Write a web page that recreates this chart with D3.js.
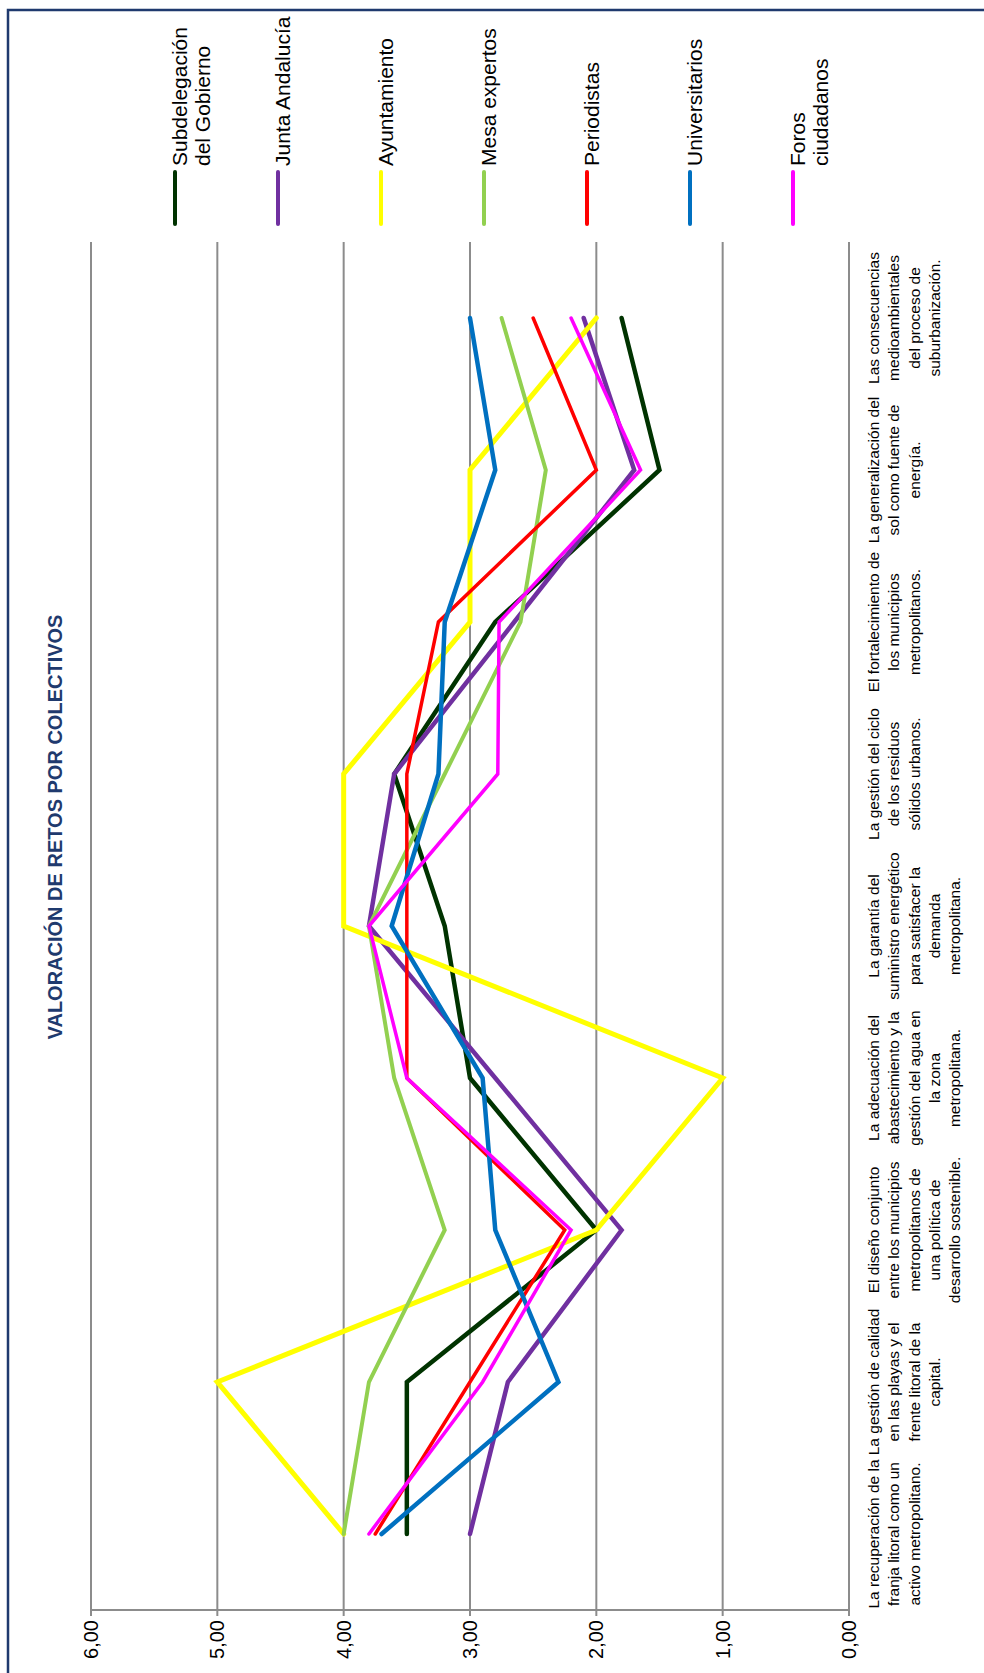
<!DOCTYPE html>
<html>
<head>
<meta charset="utf-8">
<script src="https://cdn.jsdelivr.net/npm/d3@7/dist/d3.min.js"></script>
<style>
  html, body { margin: 0; padding: 0; background: #ffffff; }
  svg { display: block; }
  text { font-family: "Liberation Sans", Arial, sans-serif; }
</style>
</head>
<body>
<svg id="chart" width="984" height="1673"></svg>
<script>
// ---------- DATA ----------
const title = "VALORACIÓN DE RETOS POR COLECTIVOS";

const categories = [
  "La recuperación de la|franja litoral como un|activo metropolitano.",
  "La gestión de calidad|en las playas y el|frente litoral de la|capital.",
  "El diseño conjunto|entre los municipios|metropolitanos de|una política de|desarrollo sostenible.",
  "La adecuación del|abastecimiento y la|gestión del agua en|la zona|metropolitana.",
  "La garantía del|suministro energético|para satisfacer la|demanda|metropolitana.",
  "La gestión del ciclo|de los residuos|sólidos urbanos.",
  "El fortalecimiento de|los municipios|metropolitanos.",
  "La generalización del|sol como fuente de|energía.",
  "Las consecuencias|medioambientales|del proceso de|suburbanización."
];

const seriesNames = [
  "Subdelegación|del Gobierno",
  "Junta Andalucía",
  "Ayuntamiento",
  "Mesa expertos",
  "Periodistas",
  "Universitarios",
  "Foros|ciudadanos"
];

const subdelegacion  = [3.5, 3.5, 2.0, 3.0, 3.2, 3.6, 2.8, 1.5, 1.8];
const juntaAndalucia = [3.0, 2.7, 1.8, 2.8, 3.8, 3.6, 2.65, 1.7, 2.1];
const ayuntamiento   = [4.0, 5.0, 2.0, 1.0, 4.0, 4.0, 3.0, 3.0, 2.0];
const mesaExpertos   = [4.0, 3.8, 3.2, 3.6, 3.8, 3.2, 2.6, 2.4, 2.75];
const periodistas    = [3.75, 3.0, 2.25, 3.5, 3.5, 3.5, 3.25, 2.0, 2.5];
const universitarios = [3.7, 2.3, 2.8, 2.9, 3.62, 3.25, 3.2, 2.8, 3.0];
const forosCiudadanos= [3.8, 2.9, 2.2, 3.5, 3.8, 2.78, 2.77, 1.65, 2.2];

const valueTicks = [0, 1, 2, 3, 4, 5, 6];
const tickLabels = ["0,00", "1,00", "2,00", "3,00", "4,00", "5,00", "6,00"];

const seriesColors = ["#003300", "#7030A0", "#FFFF00", "#92D050", "#FF0000", "#0070C0", "#FF00FF"];
const seriesWidths = [4.5, 4.5, 5, 4, 3.5, 4.5, 3.5];

const seriesValues = [subdelegacion, juntaAndalucia, ayuntamiento, mesaExpertos,
                      periodistas, universitarios, forosCiudadanos];

// ---------- LAYOUT (chart is drawn rotated 90° CCW) ----------
const svg = d3.select("#chart");
svg.append("rect").attr("width", 984).attr("height", 1673).attr("fill", "#fff");

const plotTop = 242, plotBottom = 1610;
const x = d3.scaleLinear().domain([0, 6]).range([849, 91]);
const y = d3.scaleBand().domain(d3.range(categories.length)).range([plotBottom, plotTop]).padding(0);
const yc = i => y(i) + y.bandwidth() / 2;

// outer frame
svg.append("path")
  .attr("d", "M8,1700 V10 H1000")
  .attr("fill", "none").attr("stroke", "#1F3A6E").attr("stroke-width", 2.5);

// gridlines
const grid = svg.append("g");
grid.selectAll("line").data(valueTicks).join("line")
  .attr("x1", d => x(d)).attr("x2", d => x(d))
  .attr("y1", plotTop).attr("y2", plotBottom)
  .attr("stroke", "#8C8C8C").attr("stroke-width", 2);

// value axis (bottom) line and ticks
svg.append("line")
  .attr("x1", x(6)).attr("x2", x(0)).attr("y1", plotBottom).attr("y2", plotBottom)
  .attr("stroke", "#8C8C8C").attr("stroke-width", 2);
svg.append("g").selectAll("line").data(valueTicks).join("line")
  .attr("x1", d => x(d)).attr("x2", d => x(d))
  .attr("y1", plotBottom).attr("y2", plotBottom + 6)
  .attr("stroke", "#8C8C8C").attr("stroke-width", 2);

// value tick labels
svg.append("g").selectAll("text").data(valueTicks).join("text")
  .attr("transform", d => `translate(${x(d) + 7},1620) rotate(-90)`)
  .attr("text-anchor", "end")
  .attr("font-size", 20)
  .attr("fill", "#000")
  .text((d, i) => tickLabels[i]);

// category labels
const catG = svg.append("g");
categories.forEach((c, i) => {
  const lines = c.split("|");
  lines.forEach((ln, j) => {
    catG.append("text")
      .attr("transform", `translate(${879 + j * 20.3},${yc(i)}) rotate(-90)`)
      .attr("text-anchor", "middle")
      .attr("font-size", 15.5)
      .attr("fill", "#000")
      .text(ln);
  });
});

// series lines
const line = d3.line().x(d => x(d.v)).y(d => yc(d.i));
seriesValues.forEach((vals, s) => {
  svg.append("path")
    .datum(vals.map((v, i) => ({ v, i })))
    .attr("d", line)
    .attr("fill", "none")
    .attr("stroke", seriesColors[s])
    .attr("stroke-width", seriesWidths[s])
    .attr("stroke-linejoin", "miter")
    .attr("stroke-linecap", "round");
});

// legend
const legX = d3.scalePoint().domain(d3.range(seriesNames.length)).range([175, 793]);
seriesNames.forEach((nm, s) => {
  const lx = legX(s);
  svg.append("line")
    .attr("x1", lx).attr("x2", lx).attr("y1", 172).attr("y2", 224)
    .attr("stroke", seriesColors[s]).attr("stroke-width", 4)
    .attr("stroke-linecap", "round");
  nm.split("|").forEach((ln, j) => {
    svg.append("text")
      .attr("transform", `translate(${lx + 12 + j * 23},166) rotate(-90)`)
      .attr("text-anchor", "start")
      .attr("font-size", 21)
      .attr("fill", "#000")
      .text(ln);
  });
});

// title
svg.append("text")
  .attr("transform", `translate(62,827) rotate(-90)`)
  .attr("text-anchor", "middle")
  .attr("font-size", 20)
  .attr("font-weight", "bold")
  .attr("fill", "#1F3A6E")
  .text(title);
</script>
</body>
</html>
